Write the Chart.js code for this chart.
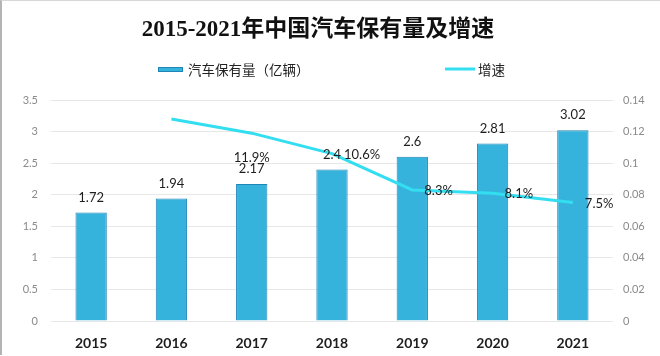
<!DOCTYPE html>
<html>
<head>
<meta charset="utf-8">
<script src="https://cdn.jsdelivr.net/npm/chart.js@4.4.1/dist/chart.umd.min.js"></script>
<style>
  html, body { margin: 0; padding: 0; background: #fff; }
  #wrap { position: relative; width: 660px; height: 356px; }
  #frame { position: absolute; left: 0; top: 0; width: 658px; height: 354px;
           border-left: 2px solid #b4b4b4; border-top: 1px solid #d8d8d8; pointer-events: none; }
</style>
</head>
<body>
<div id="wrap">
  <canvas id="c" width="660" height="356"></canvas>
  <div id="frame"></div>
</div>
<script>
const titleText = '2015-2021年中国汽车保有量及增速';
const years = ['2015', '2016', '2017', '2018', '2019', '2020', '2021'];
const stockLabel = '汽车保有量（亿辆）';
const stock = [1.72, 1.94, 2.17, 2.4, 2.6, 2.81, 3.02];
const growthLabel = '增速';
const growth = [null, 0.128, 0.119, 0.106, 0.083, 0.081, 0.075];
const hiddenGrowthLabels = [1];
const leftTicks = [0, 0.5, 1, 1.5, 2, 2.5, 3, 3.5];
const rightTicks = [0, 0.02, 0.04, 0.06, 0.08, 0.1, 0.12, 0.14];

const BAR_FILL = '#36b3dc';
const BAR_EDGE = '#1f84b6';
const LINE_COL = '#32def0';
const TEXT_DARK = '#1e1e1e';
const NUM_FONT = "Lato, 'Liberation Sans', sans-serif";
const CJK_FONT = "'Noto Sans CJK SC', sans-serif";

const fmt = v => String(+(+v).toFixed(2));

const decorPlugin = {
  id: 'decor',
  afterDatasetsDraw(chart) {
    const ctx = chart.ctx;
    ctx.save();
    // bar value labels
    const barMeta = chart.getDatasetMeta(0);
    ctx.font = '13px ' + NUM_FONT;
    ctx.fillStyle = TEXT_DARK;
    ctx.textAlign = 'center';
    ctx.textBaseline = 'middle';
    barMeta.data.forEach((el, i) => {
      ctx.fillText(fmt(stock[i]), el.x, el.y - 15);
    });
    // growth labels
    const lineMeta = chart.getDatasetMeta(1);
    lineMeta.data.forEach((el, i) => {
      const v = growth[i];
      if (v === null || hiddenGrowthLabels.includes(i)) return;
      const txt = (v * 100).toFixed(1) + '%';
      if (i === 2) {
        ctx.textAlign = 'center';
        ctx.fillText(txt, el.x, el.y + 25);
      } else {
        ctx.textAlign = 'left';
        ctx.fillText(txt, el.x + 12, el.y + 1);
      }
    });
    ctx.restore();
  },
  afterDraw(chart) {
    const ctx = chart.ctx;
    ctx.save();
    // title
    ctx.font = "bold 23px 'Liberation Serif', 'Noto Sans CJK SC', serif";
    ctx.fillStyle = '#111';
    ctx.textAlign = 'center';
    ctx.textBaseline = 'middle';
    ctx.fillText(titleText, 318, 30);
    // legend
    ctx.fillStyle = BAR_FILL;
    ctx.fillRect(158, 67, 25, 5);
    ctx.strokeStyle = BAR_EDGE;
    ctx.lineWidth = 1;
    ctx.strokeRect(158.5, 67.5, 24, 4);
    ctx.font = '13.5px ' + CJK_FONT;
    ctx.fillStyle = '#222';
    ctx.textAlign = 'left';
    ctx.fillText(stockLabel, 188, 70);
    ctx.strokeStyle = LINE_COL;
    ctx.lineWidth = 3;
    ctx.beginPath();
    ctx.moveTo(445, 69);
    ctx.lineTo(475, 69);
    ctx.stroke();
    ctx.fillText(growthLabel, 478, 70);
    ctx.restore();
  }
};

new Chart(document.getElementById('c'), {
  data: {
    labels: years,
    datasets: [
      {
        type: 'bar',
        label: stockLabel,
        data: stock,
        backgroundColor: BAR_FILL,
        borderColor: BAR_EDGE,
        borderWidth: 1,
        barPercentage: 0.39,
        categoryPercentage: 1,
        yAxisID: 'y',
        order: 2
      },
      {
        type: 'line',
        label: growthLabel,
        data: growth,
        borderColor: LINE_COL,
        backgroundColor: LINE_COL,
        borderWidth: 3,
        pointRadius: 0,
        tension: 0,
        spanGaps: false,
        yAxisID: 'y1',
        order: 1
      }
    ]
  },
  options: {
    responsive: false,
    animation: false,
    layout: { padding: { top: 100, left: 0, right: 0, bottom: 0 } },
    plugins: {
      legend: { display: false },
      title: { display: false },
      tooltip: { enabled: false }
    },
    scales: {
      x: {
        grid: { display: false, drawTicks: false },
        border: { display: false },
        ticks: {
          padding: 14,
          color: TEXT_DARK,
          font: { family: NUM_FONT, size: 14, weight: 'bold' }
        },
        afterFit(s) { s.height = 35; }
      },
      y: {
        position: 'left',
        min: leftTicks[0],
        max: leftTicks[leftTicks.length - 1],
        afterBuildTicks(s) { s.ticks = leftTicks.map(v => ({ value: v })); },
        grid: { color: '#e7e7e7', lineWidth: 1, drawTicks: false },
        border: { display: false },
        ticks: {
          padding: 13,
          color: '#8a8a8a',
          font: { family: NUM_FONT, size: 11 },
          callback: v => fmt(v)
        },
        afterFit(s) { s.width = 51; }
      },
      y1: {
        position: 'right',
        min: rightTicks[0],
        max: rightTicks[rightTicks.length - 1],
        afterBuildTicks(s) { s.ticks = rightTicks.map(v => ({ value: v })); },
        grid: { display: false, drawTicks: false },
        border: { display: false },
        ticks: {
          padding: 10,
          color: '#8a8a8a',
          font: { family: NUM_FONT, size: 11 },
          callback: v => fmt(v)
        },
        afterFit(s) { s.width = 47; }
      }
    }
  },
  plugins: [decorPlugin]
});
</script>
</body>
</html>
